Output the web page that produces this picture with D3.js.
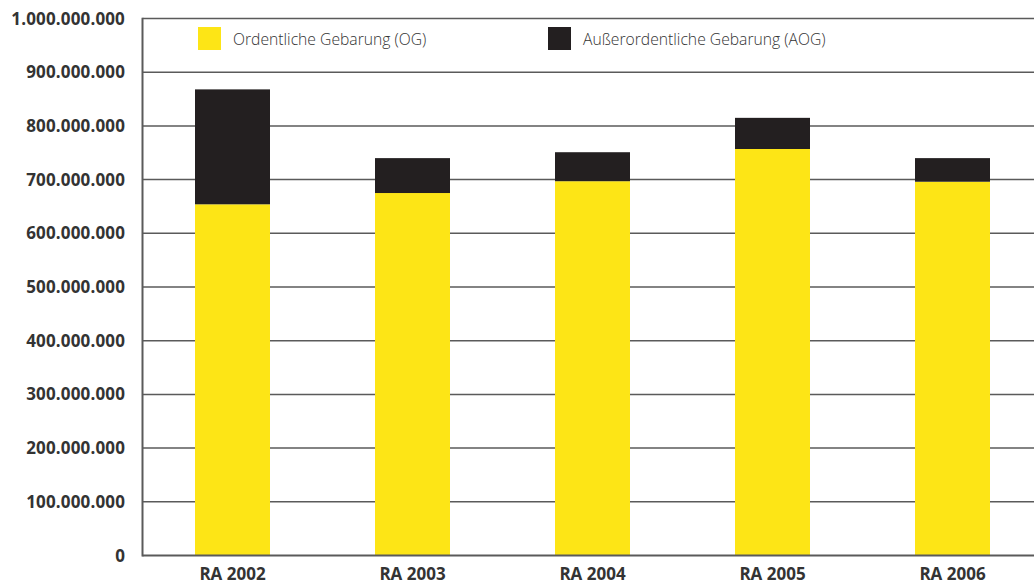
<!DOCTYPE html>
<html>
<head>
<meta charset="utf-8">
<script src="https://cdn.jsdelivr.net/npm/d3@7"></script>
<style>
  body { margin: 0; background: #fff; }
  svg { display: block; }
</style>
</head>
<body>
<div id="chart"></div>
<script>
// data
var years = ["RA 2002", "RA 2003", "RA 2004", "RA 2005", "RA 2006"];
var og  = [654000000, 675000000, 697000000, 757000000, 696000000];
var aog = [214000000,  65000000,  54000000,  58000000,  44000000];
var yTicks = [0, 100000000, 200000000, 300000000, 400000000, 500000000,
              600000000, 700000000, 800000000, 900000000, 1000000000];
var seriesNames = ["Ordentliche Gebarung (OG)", "Außerordentliche Gebarung (AOG)"];
var seriesColors = ["#fde516", "#231f20"];

var W = 1034, H = 585;
var plotL = 142.5, plotT = 18.5, plotB = 555.5, plotR = 1042.5;

var svg = d3.select("#chart").append("svg")
  .attr("width", W)
  .attr("height", H);

var x = d3.scaleBand()
  .domain(years)
  .range([plotL, plotR])
  .paddingInner(105 / 180)
  .paddingOuter(52.5 / 180);

var y = d3.scaleLinear()
  .domain([0, 1000000000])
  .range([plotB, plotT]);

var fmt = function(v) { return d3.format(",")(v).replace(/,/g, "."); };

// gridlines
svg.append("g").selectAll("line")
  .data(yTicks.slice(1))
  .join("line")
  .attr("x1", plotL).attr("x2", W)
  .attr("y1", function(d) { return y(d); })
  .attr("y2", function(d) { return y(d); })
  .attr("stroke", "#5a5a5a")
  .attr("stroke-width", 1.5);

// stacked bars
var rows = years.map(function(yr, i) { return { year: yr, og: og[i], aog: aog[i] }; });
var stack = d3.stack().keys(["og", "aog"])(rows);

svg.append("g").selectAll("g")
  .data(stack)
  .join("g")
  .attr("fill", function(d, i) { return seriesColors[i]; })
  .selectAll("rect")
  .data(function(d) { return d; })
  .join("rect")
  .attr("x", function(d) { return x(d.data.year); })
  .attr("width", x.bandwidth())
  .attr("y", function(d) { return y(d[1]); })
  .attr("height", function(d) { return y(d[0]) - y(d[1]); });

// axis lines
svg.append("line")
  .attr("x1", plotL).attr("x2", plotL)
  .attr("y1", plotT - 0.75).attr("y2", plotB + 1)
  .attr("stroke", "#5a5a5a").attr("stroke-width", 2);
svg.append("line")
  .attr("x1", plotL).attr("x2", W)
  .attr("y1", plotB).attr("y2", plotB)
  .attr("stroke", "#5a5a5a").attr("stroke-width", 2);

// y tick labels
svg.append("g").selectAll("text")
  .data(yTicks)
  .join("text")
  .attr("x", 125)
  .attr("y", function(d) { return y(d) + 6; })
  .attr("text-anchor", "end")
  .attr("font-family", "'Open Sans', sans-serif")
  .attr("font-weight", 700)
  .attr("font-size", 17)
  .attr("letter-spacing", 0.15)
  .attr("fill", "#333")
  .text(fmt);

// x labels
svg.append("g").selectAll("text")
  .data(years)
  .join("text")
  .attr("x", function(d) { return x(d) + x.bandwidth() / 2; })
  .attr("y", 580)
  .attr("text-anchor", "middle")
  .attr("font-family", "'Open Sans', sans-serif")
  .attr("font-weight", 700)
  .attr("font-size", 17)
  .attr("fill", "#333")
  .text(function(d) { return d; });

// legend
var legX = [198, 548];
var leg = svg.append("g").selectAll("g")
  .data(seriesNames)
  .join("g")
  .attr("transform", function(d, i) { return "translate(" + legX[i] + ",27)"; });
leg.append("rect")
  .attr("width", 23).attr("height", 23)
  .attr("fill", function(d, i) { return seriesColors[i]; });
leg.append("text")
  .attr("x", 35).attr("y", 18)
  .attr("font-family", "'Open Sans', sans-serif")
  .attr("font-weight", 300)
  .attr("font-size", 15.7)
  .attr("fill", "#333")
  .text(function(d) { return d; });
</script>
</body>
</html>
